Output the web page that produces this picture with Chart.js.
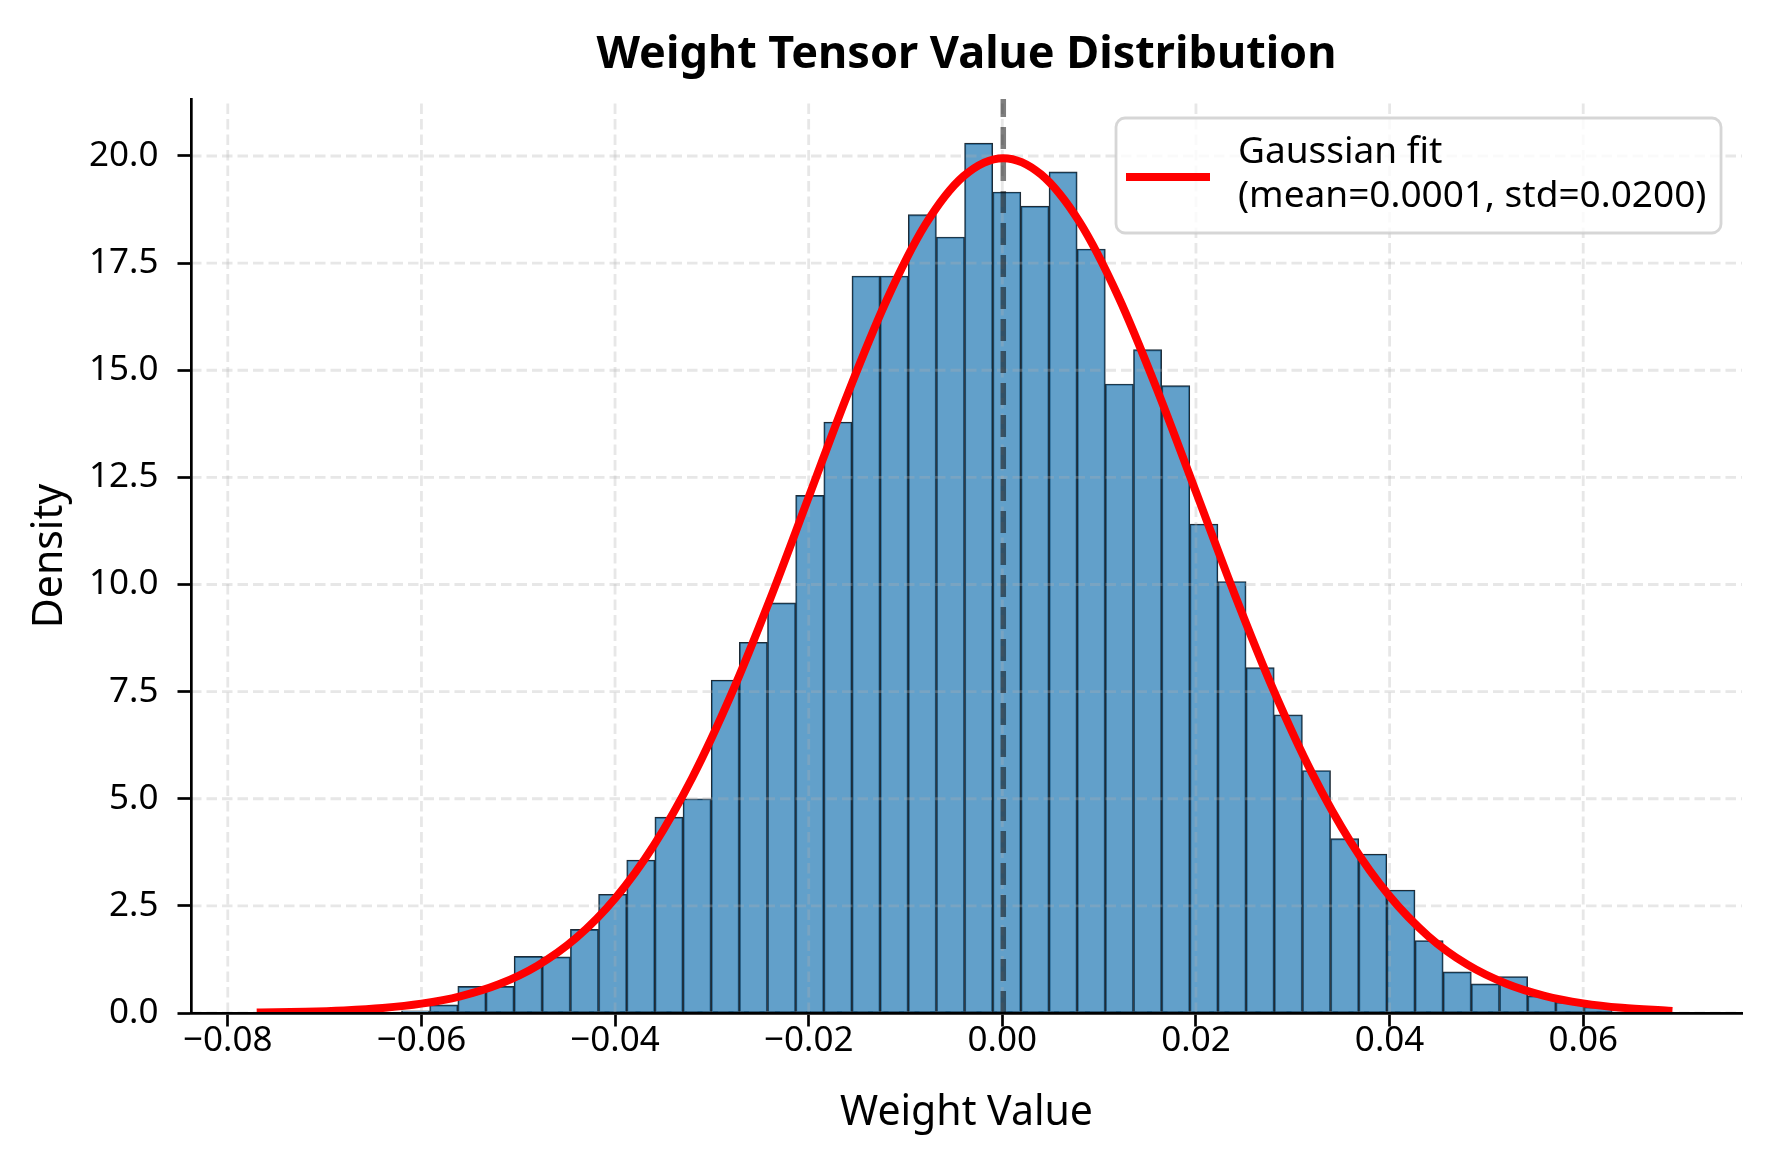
<!DOCTYPE html>
<html>
<head>
<meta charset="utf-8">
<title>Weight Tensor Value Distribution</title>
<script src="https://cdn.jsdelivr.net/npm/chart.js@4.4.1/dist/chart.umd.min.js"></script>
<style>
  html, body { margin: 0; padding: 0; background: #fff; }
  #wrap { width: 1770px; height: 1170px; }
</style>
</head>
<body>
<div id="wrap"><canvas id="weightHist" width="1770" height="1170"></canvas></div>
<script>
// ===== DATA =====
// histogram bin centres (50 bins) and density per bin
const binCenters = [
  -0.075146, -0.072238, -0.069330, -0.066422, -0.063514, -0.060606, -0.057698, -0.054790, -0.051882, -0.048974,
  -0.046066, -0.043158, -0.040250, -0.037342, -0.034434, -0.031526, -0.028618, -0.025710, -0.022802, -0.019894,
  -0.016986, -0.014078, -0.011170, -0.008262, -0.005354, -0.002446, 0.000462, 0.003370, 0.006278, 0.009186,
  0.012094, 0.015002, 0.017910, 0.020818, 0.023726, 0.026634, 0.029542, 0.032450, 0.035358, 0.038266,
  0.041174, 0.044082, 0.046990, 0.049898, 0.052806, 0.055714, 0.058622, 0.061530, 0.064438, 0.067346
];
const binDensity = [
  0.03, 0, 0, 0, 0, 0.05, 0.19, 0.62, 0.62, 1.32,
  1.31, 1.95, 2.77, 3.57, 4.57, 5.00, 7.77, 8.65, 9.57, 12.08,
  13.79, 17.20, 17.20, 18.63, 18.11, 20.30, 19.16, 18.83, 19.63, 17.83,
  14.68, 15.48, 14.64, 11.41, 10.07, 8.06, 6.96, 5.66, 4.07, 3.71,
  2.87, 1.69, 0.96, 0.68, 0.85, 0.40, 0.25, 0.14, 0.03, 0.03
];

// gaussian fit curve
const fitX = [
  -0.0766, -0.072, -0.068, -0.064, -0.060, -0.056, -0.052, -0.048, -0.044, -0.040,
  -0.036, -0.032, -0.028, -0.024, -0.020, -0.016, -0.012, -0.008, -0.004, 0.0001,
  0.004, 0.008, 0.012, 0.016, 0.020, 0.024, 0.028, 0.032, 0.036, 0.040,
  0.044, 0.048, 0.052, 0.056, 0.060, 0.064, 0.0688
];
const fitY = [
  0.013, 0.030, 0.061, 0.117, 0.218, 0.390, 0.670, 1.107, 1.755, 2.673,
  3.912, 5.502, 7.434, 9.651, 12.04, 14.43, 16.61, 18.38, 19.53, 19.95,
  19.57, 18.45, 16.71, 14.54, 12.16, 9.768, 7.540, 5.591, 3.983, 2.727,
  1.793, 1.133, 0.688, 0.401, 0.225, 0.121, 0.055
];
const fitMean = 0.0001;
const fitStd = 0.0200;

const xTicks = [-0.08, -0.06, -0.04, -0.02, 0, 0.02, 0.04, 0.06];
const yTicks = [0, 2.5, 5, 7.5, 10, 12.5, 15, 17.5, 20];
const xRange = [-0.0838, 0.0764];
const yRange = [0, 21.33];

const chartTitle = "Weight Tensor Value Distribution";
const fitLabel = "Gaussian fit\n(mean=" + fitMean.toFixed(4) + ", std=" + fitStd.toFixed(4) + ")";

// ===== RENDER =====
const FONT = "'Noto Sans', sans-serif";
Chart.defaults.font.family = FONT;
Chart.defaults.color = "#000";

const minusFmt = (v, d) => Number(v).toFixed(d).replace("-", "\u2212");

// dashed grid sits above the bars but below the fit line, like matplotlib
const gridAndMean = {
  id: "gridAndMean",
  afterDatasetDraw(chart, args) {
    if (args.index !== 0) return;
    const { ctx, chartArea: a, scales: { x, y } } = chart;
    ctx.save();
    ctx.beginPath();
    ctx.rect(a.left, a.top, a.right - a.left, a.bottom - a.top);
    ctx.clip();

    ctx.strokeStyle = "rgba(176,176,176,0.3)";
    ctx.lineWidth = 2.8;
    ctx.setLineDash([10.5, 5]);
    xTicks.forEach(v => {
      const px = x.getPixelForValue(v);
      ctx.beginPath();
      ctx.moveTo(px, a.bottom);
      ctx.lineTo(px, a.top);
      ctx.stroke();
    });
    yTicks.forEach(v => {
      const py = y.getPixelForValue(v);
      ctx.beginPath();
      ctx.moveTo(a.left, py);
      ctx.lineTo(a.right, py);
      ctx.stroke();
    });

    // mean marker
    const mx = x.getPixelForValue(fitMean);
    ctx.strokeStyle = "rgba(0,0,0,0.5)";
    ctx.lineWidth = 5.5;
    ctx.setLineDash([22, 10]);
    ctx.beginPath();
    ctx.moveTo(mx, a.bottom);
    ctx.lineTo(mx, a.top);
    ctx.stroke();
    ctx.restore();
  }
};

const titleAndLegend = {
  id: "titleAndLegend",
  afterDraw(chart) {
    const { ctx, chartArea: a } = chart;
    ctx.save();
    // title centred over the axes
    ctx.fillStyle = "#000";
    ctx.font = "bold 45px " + FONT;
    ctx.textAlign = "center";
    ctx.textBaseline = "alphabetic";
    ctx.fillText(chartTitle, (a.left + a.right) / 2, 68);

    // legend box, upper right
    const bx = 1116, by = 118, bw = 605, bh = 115, r = 9;
    ctx.beginPath();
    ctx.moveTo(bx + r, by);
    ctx.arcTo(bx + bw, by, bx + bw, by + bh, r);
    ctx.arcTo(bx + bw, by + bh, bx, by + bh, r);
    ctx.arcTo(bx, by + bh, bx, by, r);
    ctx.arcTo(bx, by, bx + bw, by, r);
    ctx.closePath();
    ctx.fillStyle = "rgba(255,255,255,0.8)";
    ctx.fill();
    ctx.strokeStyle = "rgba(204,204,204,0.8)";
    ctx.lineWidth = 2.8;
    ctx.stroke();

    const ds = chart.data.datasets[1];
    ctx.strokeStyle = ds.borderColor;
    ctx.lineWidth = ds.borderWidth;
    ctx.lineCap = "butt";
    ctx.beginPath();
    ctx.moveTo(1126, 177);
    ctx.lineTo(1210, 177);
    ctx.stroke();

    ctx.fillStyle = "#000";
    ctx.font = "37px " + FONT;
    ctx.textAlign = "left";
    ds.label.split("\n").forEach((line, i) => {
      ctx.fillText(line, 1238, 163 + i * 44);
    });
    ctx.restore();
  }
};

const histData = binCenters.map((c, i) => ({ x: c, y: binDensity[i] }));
const fitData = fitX.map((v, i) => ({ x: v, y: fitY[i] }));

new Chart(document.getElementById("weightHist"), {
  type: "bar",
  data: {
    datasets: [
      {
        type: "bar",
        label: "Weights",
        data: histData,
        backgroundColor: "rgba(31,119,180,0.7)",
        borderColor: "#1e2b36",
        borderWidth: 1.2,
        borderSkipped: false,
        barPercentage: 1,
        categoryPercentage: 1,
        grouped: false,
        order: 2
      },
      {
        type: "line",
        label: fitLabel,
        data: fitData,
        borderColor: "#ff0000",
        borderWidth: 8,
        borderCapStyle: "square",
        pointRadius: 0,
        cubicInterpolationMode: "monotone",
        fill: false,
        clip: 0,
        order: 1
      }
    ]
  },
  options: {
    responsive: false,
    devicePixelRatio: 1,
    animation: false,
    layout: { padding: { top: 99, right: 28, left: 0, bottom: 0 } },
    plugins: {
      legend: { display: false },
      title: { display: false },
      tooltip: { enabled: false }
    },
    scales: {
      x: {
        type: "linear",
        offset: false,
        min: xRange[0],
        max: xRange[1],
        afterBuildTicks: s => { s.ticks = xTicks.map(v => ({ value: v })); },
        afterFit: s => { s.height = 157; },
        ticks: {
          font: { size: 35 },
          color: "#000",
          padding: -6,
          maxRotation: 0,
          autoSkip: false,
          callback: v => minusFmt(v, 2)
        },
        grid: {
          display: true,
          offset: false,
          drawOnChartArea: false,
          drawTicks: true,
          tickLength: 13.5,
          tickWidth: 2.7,
          tickColor: "#000"
        },
        border: { display: true, color: "#000", width: 2.7, z: 1 },
        title: {
          display: true,
          text: "Weight Value",
          font: { size: 41 },
          color: "#000",
          padding: { top: 0, bottom: 32 }
        }
      },
      y: {
        type: "linear",
        min: yRange[0],
        max: yRange[1],
        afterBuildTicks: s => { s.ticks = yTicks.map(v => ({ value: v })); },
        afterFit: s => { s.width = 191; },
        ticks: {
          font: { size: 35 },
          color: "#000",
          padding: 19,
          autoSkip: false,
          callback: v => minusFmt(v, 1)
        },
        grid: {
          display: true,
          drawOnChartArea: false,
          drawTicks: true,
          tickLength: 13.5,
          tickWidth: 2.7,
          tickColor: "#000"
        },
        border: { display: true, color: "#000", width: 2.7, z: 1 },
        title: {
          display: true,
          text: "Density",
          font: { size: 41 },
          color: "#000",
          padding: { top: 26, bottom: 0 }
        }
      }
    }
  },
  plugins: [gridAndMean, titleAndLegend]
});
</script>
</body>
</html>
